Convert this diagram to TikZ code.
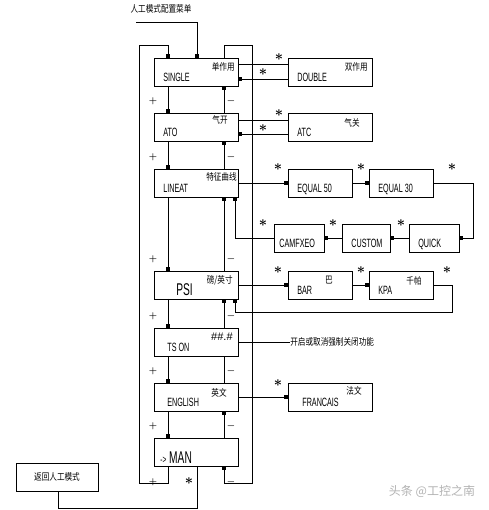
\documentclass[tikz,border=0pt]{standalone}
\usepackage{fontspec}
\setmainfont{Liberation Sans}
\newfontfamily\cadfont[FakeStretch=0.6]{Liberation Sans}
\newfontfamily\cjk[FakeStretch=0.8]{Noto Sans CJK SC}
\newfontfamily\cjkwide{Noto Sans CJK SC}
\usetikzlibrary{positioning, arrows.meta}

\begin{document}
\begin{tikzpicture}[
  line width=0.7pt,
  menubox/.style={draw, inner sep=0pt, outer sep=0pt, minimum width=84pt, minimum height=28pt},
  en/.style={font=\cadfont\fontsize{12}{12}\selectfont, inner sep=0pt, anchor=base west},
  big/.style={font=\cadfont\fontsize{17}{17}\selectfont, inner sep=0pt, anchor=base west},
  cn/.style={font=\cjk\fontsize{9.5}{9.5}\selectfont, inner sep=0pt, anchor=north east},
  key/.style={font=\Large\boldmath, inner sep=0pt},
  sign/.style={font=\small\boldmath, inner sep=0pt},
  link/.style={-{Square[length=4pt,width=3.5pt]}},
  wire/.style={-}
]
\useasboundingbox (0,0) rectangle (488pt,510pt);

% main menu column
\node[menubox] (single) at (196pt,438pt) {};
\node[menubox, below=27pt of single] (ato) {};
\node[menubox, below=28pt of ato] (lineat) {};
\node[menubox, below=74pt of lineat] (psi) {};
\node[menubox, below=29pt of psi] (tson) {};
\node[menubox, below=27pt of tson] (english) {};
\node[menubox, below=27pt of english] (man) {};

% option boxes
\node[menubox, right=50pt of single] (double) {};
\node[menubox, right=50pt of ato] (atc) {};
\node[menubox, minimum width=64pt, right=50pt of lineat] (equal50) {};
\node[menubox, minimum width=64pt, right=17pt of equal50] (equal30) {};
\node[menubox, minimum width=50pt] (quick) at (434pt,272pt) {};
\node[menubox, minimum width=48pt, left=19pt of quick] (custom) {};
\node[menubox, minimum width=50pt, left=18pt of custom] (camfxeo) {};
\node[menubox, minimum width=64pt, right=50pt of psi] (bar) {};
\node[menubox, minimum width=64pt, right=17pt of bar] (kpa) {};
\node[menubox, right=50pt of english] (francais) {};
\node[menubox, minimum width=82pt, font=\cjk\fontsize{9.5}{9.5}\selectfont] (back) at (57pt,33pt) {返回人工模式};
\node[font=\cjk\fontsize{9.5}{9.5}\selectfont, inner sep=0pt] (title) at (161pt,501pt) {人工模式配置菜单};

% box texts
\node[en] (t-single) at ([shift={(9pt,4.5pt)}]single.south west) {SINGLE};
\node[en] (t-ato) at ([shift={(9pt,4.5pt)}]ato.south west) {ATO};
\node[en] (t-lineat) at ([shift={(9pt,4.5pt)}]lineat.south west) {LINEAT};
\node[big] (t-psi) at ([shift={(22pt,3pt)}]psi.south west) {PSI};
\node[en] (t-tson) at ([shift={(13pt,4.5pt)}]tson.south west) {TS ON};
\node[en] (t-english) at ([shift={(13pt,4.5pt)}]english.south west) {ENGLISH};
\node[big] (t-man) at ([shift={(6pt,2pt)}]man.south west) {{\fontsize{11}{11}\selectfont ->} MAN};
\node[en] (t-double) at ([shift={(9pt,4.5pt)}]double.south west) {DOUBLE};
\node[en] (t-atc) at ([shift={(9pt,4.5pt)}]atc.south west) {ATC};
\node[en] (t-equal50) at ([shift={(9pt,4.5pt)}]equal50.south west) {EQUAL 50};
\node[en] (t-equal30) at ([shift={(9pt,4.5pt)}]equal30.south west) {EQUAL 30};
\node[en] (t-camfxeo) at ([shift={(5pt,4.5pt)}]camfxeo.south west) {CAMFXEO};
\node[en] (t-custom) at ([shift={(9pt,4.5pt)}]custom.south west) {CUSTOM};
\node[en] (t-quick) at ([shift={(9pt,4.5pt)}]quick.south west) {QUICK};
\node[en] (t-bar) at ([shift={(9pt,4.5pt)}]bar.south west) {BAR};
\node[en] (t-kpa) at ([shift={(9pt,4.5pt)}]kpa.south west) {KPA};
\node[en] (t-francais) at ([shift={(14pt,4.5pt)}]francais.south west) {FRANCAIS};

\node[cn] (c-single) at ([shift={(-3pt,-4pt)}]single.north east) {单作用};
\node[cn] (c-ato) at ([shift={(-10pt,-2pt)}]ato.north east) {气开};
\node[cn] (c-lineat) at ([shift={(-1pt,-3pt)}]lineat.north east) {特征曲线};
\node[cn] (c-psi) at ([shift={(-5pt,-4pt)}]psi.north east) {磅/英寸};
\node[font=\fontsize{11}{11}\selectfont, inner sep=0pt, anchor=north east] (c-tson) at ([shift={(-5pt,-5pt)}]tson.north east) {\#\#.\#};
\node[cn] (c-english) at ([shift={(-11pt,-5pt)}]english.north east) {英文};
\node[cn] (c-double) at ([shift={(-4pt,-4pt)}]double.north east) {双作用};
\node[cn] (c-atc) at ([shift={(-12pt,-5pt)}]atc.north east) {气关};
\node[cn, anchor=north] (c-bar) at ([shift={(9pt,-5pt)}]bar.north) {巴};
\node[cn] (c-kpa) at ([shift={(-11pt,-5pt)}]kpa.north east) {千帕};
\node[cn] (c-francais) at ([shift={(-10pt,-3pt)}]francais.north east) {法文};
\node[cn, anchor=west] (tsnote) at ([xshift=52pt]tson.east) {开启或取消强制关闭功能};

% + / - steps through the menu
\draw[link] ([xshift=-28pt]single.south) -- node[sign, pos=1, xshift=-15pt, yshift=12pt] (plus1) {$+$} ([xshift=-28pt]ato.north);
\draw[link] ([xshift=28pt]ato.north) -- node[sign, pos=0, xshift=7pt, yshift=12pt] (minus1) {$-$} ([xshift=28pt]single.south);
\draw[link] ([xshift=-28pt]ato.south) -- node[sign, pos=1, xshift=-15pt, yshift=12pt] (plus2) {$+$} ([xshift=-28pt]lineat.north);
\draw[link] ([xshift=28pt]lineat.north) -- node[sign, pos=0, xshift=7pt, yshift=12pt] (minus2) {$-$} ([xshift=28pt]ato.south);
\draw[link] ([xshift=-28pt]lineat.south) -- node[sign, pos=1, xshift=-15pt, yshift=12pt] (plus3) {$+$} ([xshift=-28pt]psi.north);
\draw[link] ([xshift=28pt]psi.north) -- node[sign, pos=0, xshift=7pt, yshift=12pt] (minus3) {$-$} ([xshift=28pt]lineat.south);
\draw[link] ([xshift=-28pt]psi.south) -- node[sign, pos=1, xshift=-15pt, yshift=12pt] (plus4) {$+$} ([xshift=-28pt]tson.north);
\draw[link] ([xshift=28pt]tson.north) -- node[sign, pos=0, xshift=7pt, yshift=12pt] (minus4) {$-$} ([xshift=28pt]psi.south);
\draw[link] ([xshift=-28pt]tson.south) -- node[sign, pos=1, xshift=-15pt, yshift=12pt] (plus5) {$+$} ([xshift=-28pt]english.north);
\draw[wire] ([xshift=28pt]english.north) -- node[sign, pos=0, xshift=7pt, yshift=12pt] (minus5) {$-$} ([xshift=28pt]tson.south);
\draw[link] ([xshift=-28pt]english.south) -- node[sign, pos=1, xshift=-15pt, yshift=12pt] (plus6) {$+$} ([xshift=-28pt]man.north);
\draw[link] ([xshift=28pt]man.north) -- node[sign, pos=0, xshift=7pt, yshift=12pt] (minus6) {$-$} ([xshift=28pt]english.south);

% wrap-around loops
\coordinate (lefttop) at (139pt,465pt);
\coordinate (leftbot) at (139pt,27pt);
\coordinate (righttop) at (252pt,465pt);
\coordinate (rightbot) at (252pt,27pt);
\coordinate (entry) at (136pt,488pt);
\draw[link] ([xshift=-28pt]man.south) |- (leftbot) -- (lefttop) -| ([xshift=-28pt]single.north);
\draw[link] ([xshift=28pt]single.north) |- (righttop) -- (rightbot) -| ([xshift=28pt]man.south);
\draw[link] (entry) -| ([xshift=1pt]single.north);
\node[sign] (plus7) at ([shift={(-43pt,-16pt)}]man.south) {$+$};
\node[sign] (minus7) at ([shift={(35pt,-16pt)}]man.south) {$-$};

% option links
\draw[wire] ([yshift=8pt]single.east) -- ([yshift=8pt]double.west);
\draw[link] ([yshift=-7pt]double.west) -- ([yshift=-7pt]single.east);
\draw[wire] ([yshift=7pt]ato.east) -- ([yshift=7pt]atc.west);
\draw[link] ([yshift=-7pt]atc.west) -- ([yshift=-7pt]ato.east);
\draw[link] (lineat) -- (equal50);
\draw[link] (equal50) -- (equal30);
\draw[link] (equal30.east) -- ++(40pt,0) |- (quick.east);
\draw[link] (quick) -- (custom);
\draw[link] (custom) -- (camfxeo);
\draw[link] (camfxeo.west) -| ([xshift=39pt]lineat.south);
\draw[link] (psi) -- (bar);
\draw[link] (bar) -- (kpa);
\draw[link] (kpa.east) -- ++(19pt,0) |- ([xshift=39pt,yshift=-13pt]psi.south) -- ([xshift=39pt]psi.south);
\draw[wire] (tson.east) -- (tsnote.west);
\draw[link] (english) -- (francais);
\draw[wire] ([xshift=1pt]man.south) -- ++(0,-42pt) -| ([xshift=1pt]back.south);

% * keys
\node[key] (k1) at ([shift={(41pt,15pt)}]single.east) {$\ast$};
\node[key] (k2) at ([shift={(25pt,0pt)}]single.east) {$\ast$};
\node[key] (k3) at ([shift={(41pt,14pt)}]ato.east) {$\ast$};
\node[key] (k4) at ([shift={(25pt,-1pt)}]ato.east) {$\ast$};
\node[key] (k5) at ([shift={(-10pt,2pt)}]equal50.north west) {$\ast$};
\node[key] (k6) at ([shift={(-8pt,2pt)}]equal30.north west) {$\ast$};
\node[key] (k7) at ([shift={(19pt,2pt)}]equal30.north east) {$\ast$};
\node[key] (k8) at ([shift={(-11pt,1pt)}]camfxeo.north west) {$\ast$};
\node[key] (k9) at ([shift={(-9pt,1pt)}]custom.north west) {$\ast$};
\node[key] (k10) at ([shift={(-8pt,1pt)}]quick.north west) {$\ast$};
\node[key] (k11) at ([shift={(-10pt,1pt)}]bar.north west) {$\ast$};
\node[key] (k12) at ([shift={(-8pt,1pt)}]kpa.north west) {$\ast$};
\node[key] (k13) at ([shift={(14pt,1pt)}]kpa.north east) {$\ast$};
\node[key] (k14) at ([shift={(-10pt,0pt)}]francais.north west) {$\ast$};
\node[key] (k15) at ([shift={(-7pt,-15pt)}]man.south) {$\ast$};

\node[font=\cjkwide\fontsize{12}{12}\selectfont, text=gray!60, inner sep=0pt] (mark) at (432pt,19pt) {头条 @工控之南};
\end{tikzpicture}
\end{document}
